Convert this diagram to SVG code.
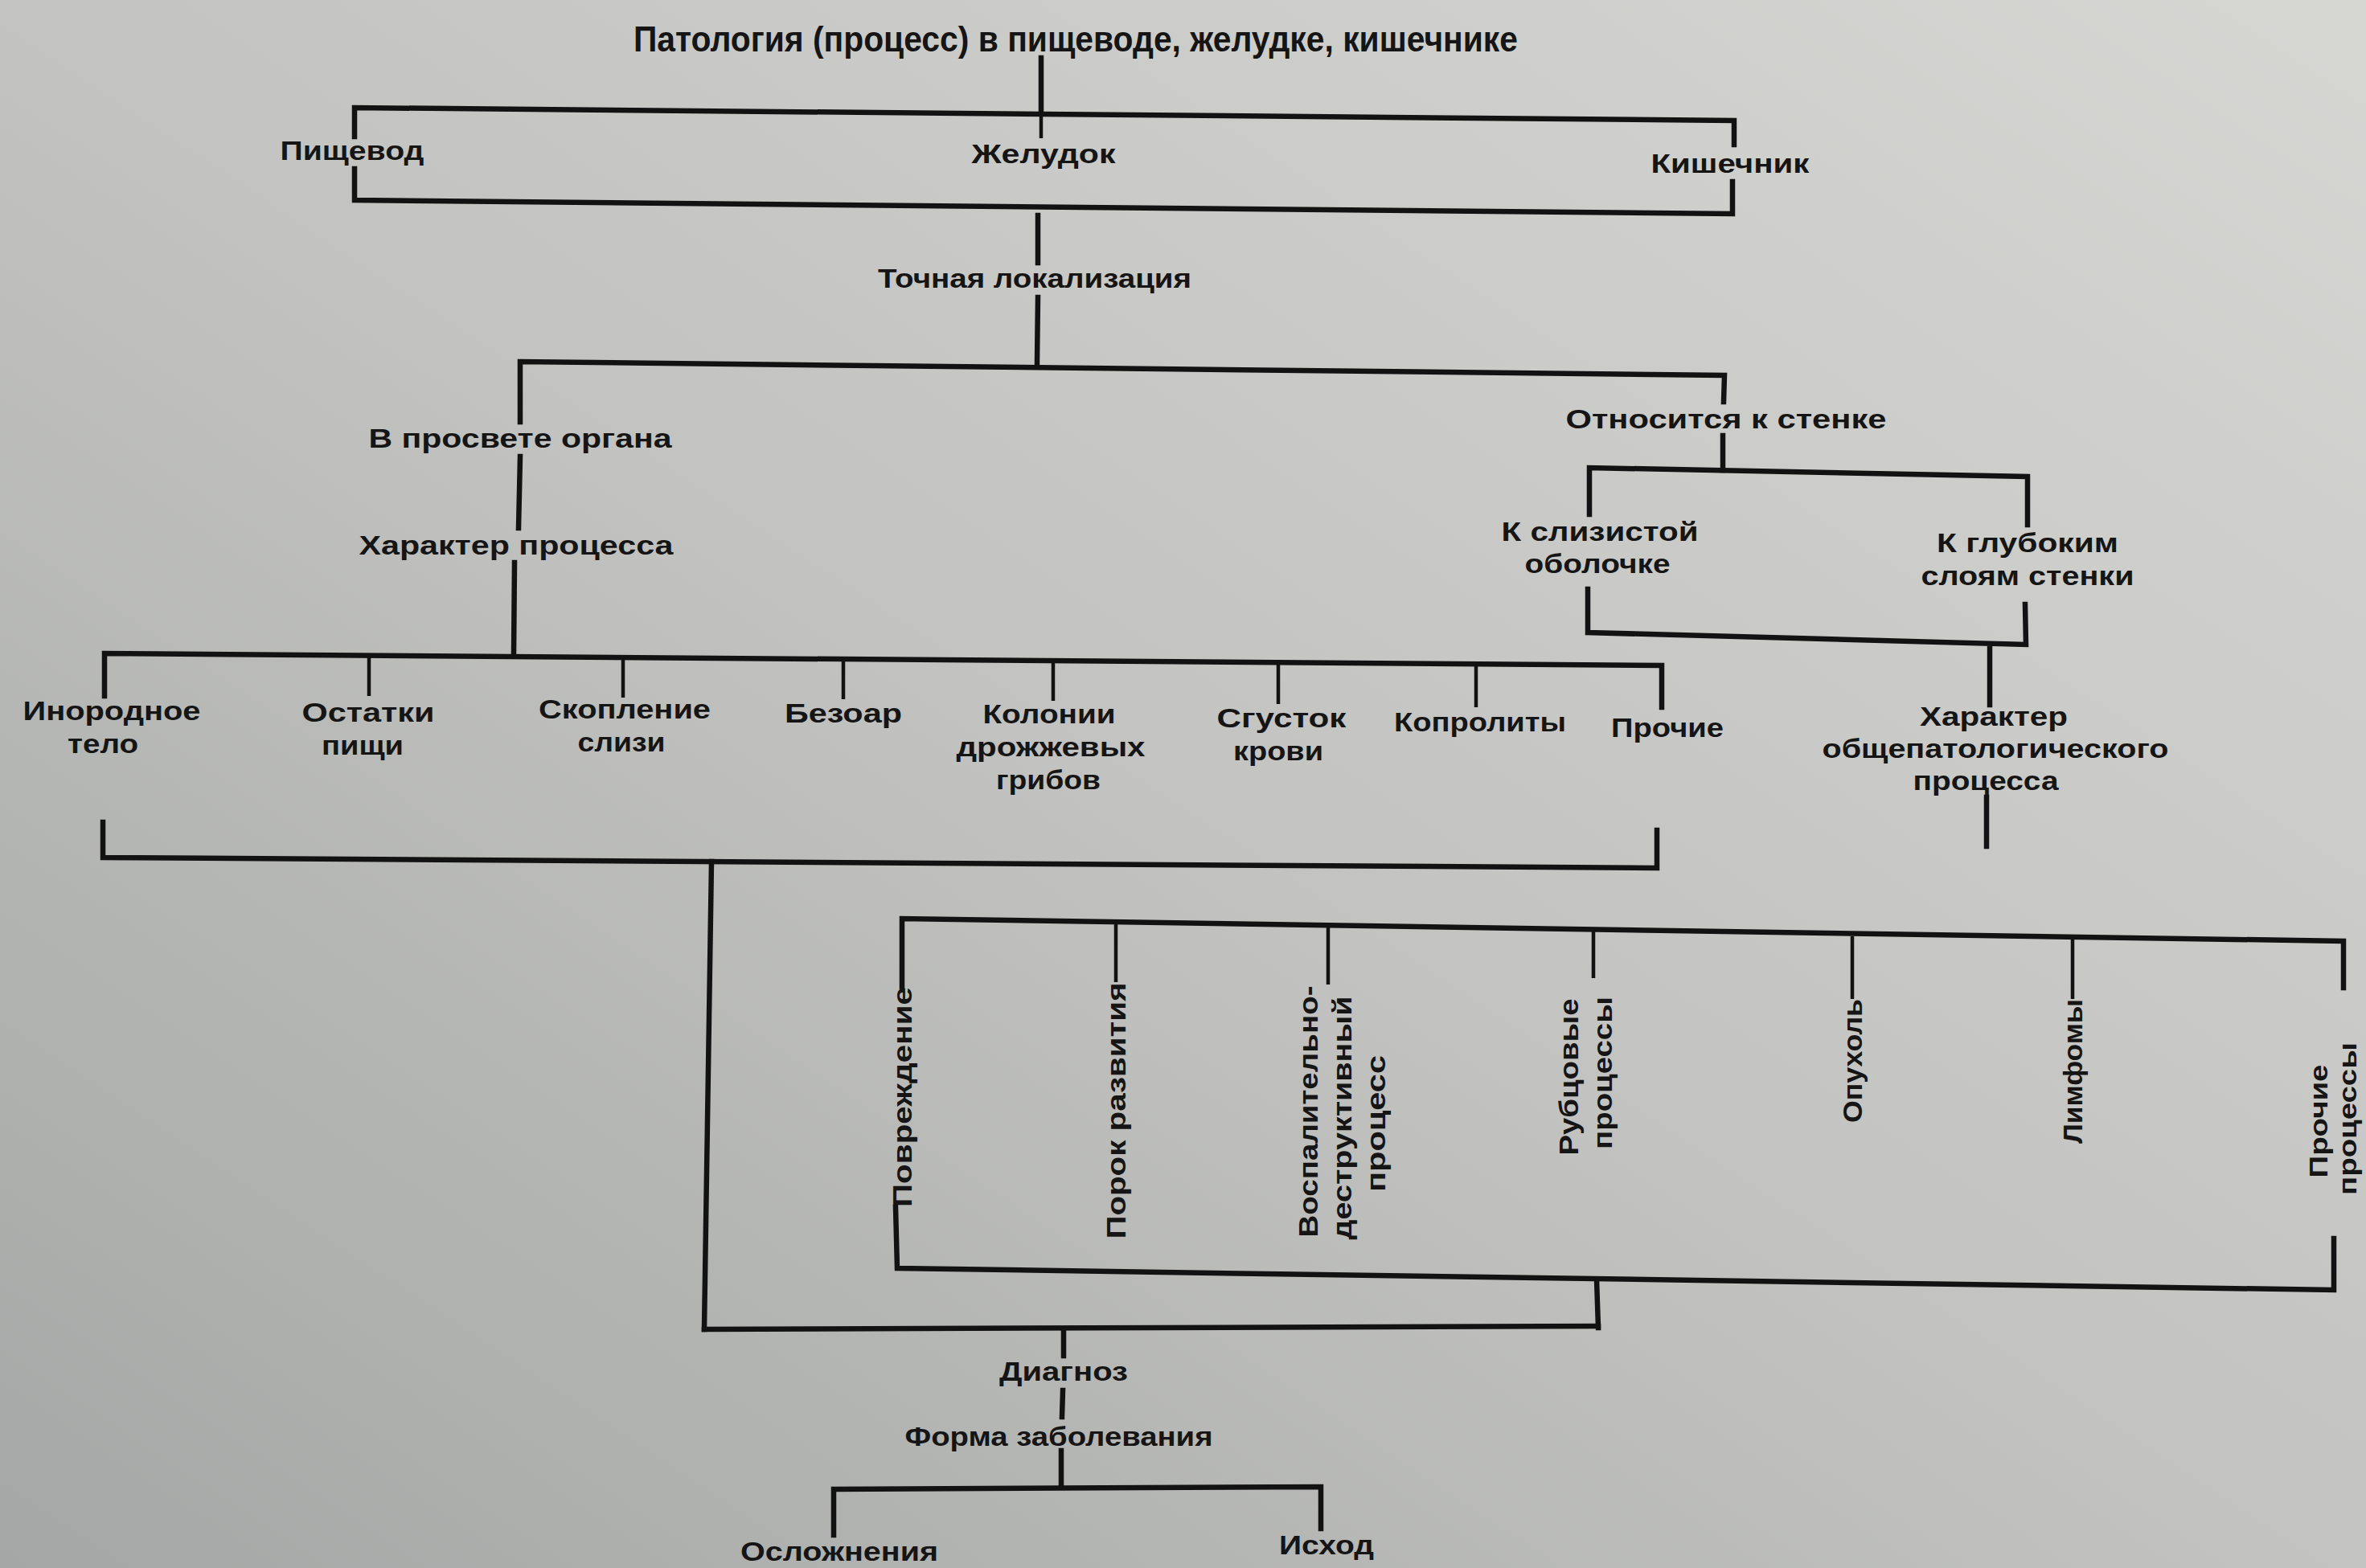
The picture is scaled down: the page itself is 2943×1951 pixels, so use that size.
<svg xmlns="http://www.w3.org/2000/svg" width="2943" height="1951" viewBox="0 0 2943 1951">
<defs>
<linearGradient id="bg" x1="1" y1="0" x2="0" y2="1">
<stop offset="0" stop-color="#d6d7d3"/>
<stop offset="0.5" stop-color="#c3c4c1"/>
<stop offset="1" stop-color="#a5a7a6"/>
</linearGradient>
<style>
.t{font-family:"Liberation Sans",Arial,sans-serif;font-weight:bold;font-size:34px;fill:#151515;text-anchor:middle}
.ttl{font-size:44px}
.sm{font-size:31px}
.ln{fill:none;stroke:#121212;stroke-width:6.5;stroke-linejoin:miter;stroke-linecap:square}
.th{fill:none;stroke:#121212;stroke-width:4.5;stroke-linecap:butt}
</style>
</defs>
<rect x="0" y="0" width="2943" height="1951" fill="url(#bg)"/>

<g id="connectors">
<path class="ln" d="M1295,72 L1295,139"/>
<path class="ln" d="M441,170 L441,134 L2157,150 L2157,180"/>
<path class="ln" d="M441,210 L441,249 L2155,266 L2155,226"/>
<path class="th" d="M1295,143 L1295,172"/>
<path class="ln" d="M1291,268 L1291,327"/>
<path class="ln" d="M1291,370 L1290,452"/>
<path class="ln" d="M647,525 L647,450 L2145,467 L2144,500"/>
<path class="ln" d="M647,568 L645,657"/>
<path class="ln" d="M640,700 L639,815"/>
<path class="ln" d="M130,866 L130,813 L2067,828 L2067,880"/>
<path class="th" d="M459,817 L459,866"/>
<path class="th" d="M775,819 L775,868"/>
<path class="th" d="M1049,821 L1049,870"/>
<path class="th" d="M1310,823 L1310,872"/>
<path class="th" d="M1590,825 L1590,876"/>
<path class="th" d="M1836,826 L1836,880"/>
<path class="ln" d="M128,1023 L128,1067 L2061,1080 L2061,1033"/>
<path class="ln" d="M885,1072 L876,1654"/>
<path class="ln" d="M2143,542 L2143,585"/>
<path class="ln" d="M1977,640 L1977,582 L2522,593 L2522,653"/>
<path class="ln" d="M1975,733 L1975,787 L2520,802 L2519,752"/>
<path class="ln" d="M2475,807 L2475,877"/>
<path class="ln" d="M2471,992 L2471,1053"/>
<path class="ln" d="M1122,1228 L1122,1143 L2915,1171 L2915,1229"/>
<path class="th" d="M1388,1147 L1388,1222"/>
<path class="th" d="M1652,1151 L1652,1225"/>
<path class="th" d="M1982,1158 L1982,1217"/>
<path class="th" d="M2304,1165 L2304,1243"/>
<path class="th" d="M2578,1168 L2578,1243"/>
<path class="ln" d="M1114,1502 L1116,1578 L2903,1605 L2903,1541"/>
<path class="ln" d="M1986,1592 L1988,1652"/>
<path class="ln" d="M876,1654 L1988,1650"/>
<path class="ln" d="M1323,1655 L1323,1687"/>
<path class="ln" d="M1322,1730 L1321,1763"/>
<path class="ln" d="M1320,1805 L1320,1850"/>
<path class="ln" d="M1037,1910 L1037,1853 L1643,1850 L1643,1902"/>
</g>

<g id="n-root"><text class="t ttl" x="1338" y="64" textLength="1100" lengthAdjust="spacingAndGlyphs">Патология (процесс) в пищеводе,  желудке, кишечнике</text></g>
<g id="n-esophagus"><text class="t" x="438" y="199" textLength="179" lengthAdjust="spacingAndGlyphs">Пищевод</text></g>
<g id="n-stomach"><text class="t" x="1298" y="203" textLength="179" lengthAdjust="spacingAndGlyphs">Желудок</text></g>
<g id="n-intestine"><text class="t" x="2152" y="215" textLength="197" lengthAdjust="spacingAndGlyphs">Кишечник</text></g>
<g id="n-localization"><text class="t" x="1287" y="358" textLength="390" lengthAdjust="spacingAndGlyphs">Точная локализация</text></g>
<g id="n-lumen"><text class="t" x="647" y="557" textLength="377" lengthAdjust="spacingAndGlyphs">В просвете органа</text></g>
<g id="n-wall"><text class="t" x="2147" y="533" textLength="399" lengthAdjust="spacingAndGlyphs">Относится к стенке</text></g>
<g id="n-process-char"><text class="t" x="642" y="690" textLength="391" lengthAdjust="spacingAndGlyphs">Характер процесса</text></g>
<g id="n-mucosa"><text class="t" x="1990" y="673" textLength="245" lengthAdjust="spacingAndGlyphs">К слизистой</text><text class="t" x="1987" y="713" textLength="181" lengthAdjust="spacingAndGlyphs">оболочке</text></g>
<g id="n-deep"><text class="t" x="2522" y="687" textLength="226" lengthAdjust="spacingAndGlyphs">К глубоким</text><text class="t" x="2522" y="728" textLength="265" lengthAdjust="spacingAndGlyphs">слоям стенки</text></g>
<g id="n-general-char"><text class="t" x="2480" y="903" textLength="184" lengthAdjust="spacingAndGlyphs">Характер</text><text class="t" x="2482" y="943" textLength="431" lengthAdjust="spacingAndGlyphs">общепатологического</text><text class="t" x="2470" y="983" textLength="181" lengthAdjust="spacingAndGlyphs">процесса</text></g>

<g id="n-foreign"><text class="t" x="139" y="896" textLength="221" lengthAdjust="spacingAndGlyphs">Инородное</text><text class="t" x="128" y="937" textLength="88" lengthAdjust="spacingAndGlyphs">тело</text></g>
<g id="n-food"><text class="t" x="458" y="898" textLength="165" lengthAdjust="spacingAndGlyphs">Остатки</text><text class="t" x="451" y="939" textLength="102" lengthAdjust="spacingAndGlyphs">пищи</text></g>
<g id="n-mucus"><text class="t" x="777" y="894" textLength="214" lengthAdjust="spacingAndGlyphs">Скопление</text><text class="t" x="773" y="935" textLength="109" lengthAdjust="spacingAndGlyphs">слизи</text></g>
<g id="n-bezoar"><text class="t" x="1049" y="899" textLength="146" lengthAdjust="spacingAndGlyphs">Безоар</text></g>
<g id="n-yeast"><text class="t" x="1305" y="900" textLength="165" lengthAdjust="spacingAndGlyphs">Колонии</text><text class="t" x="1307" y="941" textLength="235" lengthAdjust="spacingAndGlyphs">дрожжевых</text><text class="t" x="1304" y="982" textLength="130" lengthAdjust="spacingAndGlyphs">грибов</text></g>
<g id="n-clot"><text class="t" x="1594" y="905" textLength="161" lengthAdjust="spacingAndGlyphs">Сгусток</text><text class="t" x="1590" y="946" textLength="112" lengthAdjust="spacingAndGlyphs">крови</text></g>
<g id="n-coprolites"><text class="t" x="1841" y="910" textLength="214" lengthAdjust="spacingAndGlyphs">Копролиты</text></g>
<g id="n-other1"><text class="t" x="2074" y="917" textLength="140" lengthAdjust="spacingAndGlyphs">Прочие</text></g>

<g id="n-injury"><text class="t" transform="translate(1122,1365) rotate(-90)" x="0" y="12" textLength="274" lengthAdjust="spacingAndGlyphs">Повреждение</text></g>
<g id="n-malformation"><text class="t" transform="translate(1388,1382) rotate(-90)" x="0" y="12" textLength="319" lengthAdjust="spacingAndGlyphs">Порок развития</text></g>
<g id="n-inflammatory"><text class="t" transform="translate(1627,1383) rotate(-90)" x="0" y="12" textLength="313" lengthAdjust="spacingAndGlyphs">Воспалительно-</text><text class="t" transform="translate(1669,1391) rotate(-90)" x="0" y="12" textLength="303" lengthAdjust="spacingAndGlyphs">деструктивный</text><text class="t" transform="translate(1711,1398) rotate(-90)" x="0" y="12" textLength="170" lengthAdjust="spacingAndGlyphs">процесс</text></g>
<g id="n-scar"><text class="t" transform="translate(1951,1340) rotate(-90)" x="0" y="12" textLength="195" lengthAdjust="spacingAndGlyphs">Рубцовые</text><text class="t" transform="translate(1993,1335) rotate(-90)" x="0" y="12" textLength="190" lengthAdjust="spacingAndGlyphs">процессы</text></g>
<g id="n-tumor"><text class="t" transform="translate(2304,1320) rotate(-90)" x="0" y="12" textLength="154" lengthAdjust="spacingAndGlyphs">Опухоль</text></g>
<g id="n-lymphoma"><text class="t" transform="translate(2578,1333) rotate(-90)" x="0" y="12" textLength="180" lengthAdjust="spacingAndGlyphs">Лимфомы</text></g>
<g id="n-other2"><text class="t sm" transform="translate(2884,1395) rotate(-90)" x="0" y="11" textLength="141" lengthAdjust="spacingAndGlyphs">Прочие</text><text class="t sm" transform="translate(2920,1392) rotate(-90)" x="0" y="11" textLength="190" lengthAdjust="spacingAndGlyphs">процессы</text></g>

<g id="n-diagnosis"><text class="t" x="1323" y="1718" textLength="160" lengthAdjust="spacingAndGlyphs">Диагноз</text></g>
<g id="n-form"><text class="t" x="1317" y="1799" textLength="383" lengthAdjust="spacingAndGlyphs">Форма заболевания</text></g>
<g id="n-complications"><text class="t" x="1044" y="1942" textLength="246" lengthAdjust="spacingAndGlyphs">Осложнения</text></g>
<g id="n-outcome"><text class="t" x="1650" y="1934" textLength="118" lengthAdjust="spacingAndGlyphs">Исход</text></g>
</svg>
